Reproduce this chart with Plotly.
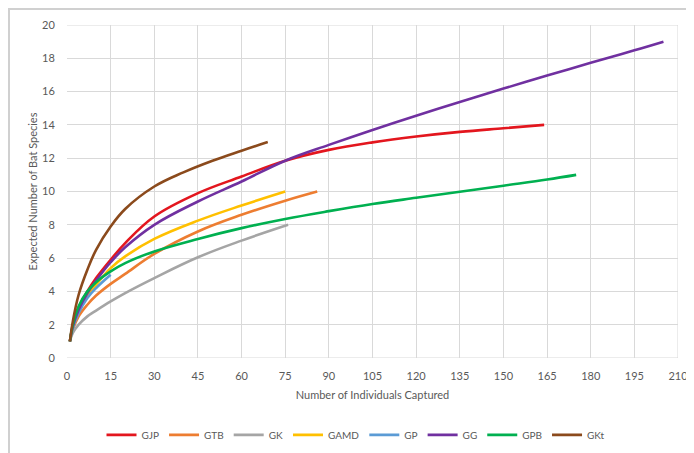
import plotly.graph_objects as go

# ---- data ----
series_names = ["GJP", "GTB", "GK", "GAMD", "GP", "GG", "GPB", "GKt"]

gjp_x = [1, 2, 4, 7, 10, 15, 20, 30, 45, 60, 75, 90, 105, 120, 135, 150, 164]
gjp_y = [1, 1.9, 3.0, 4.0, 4.8, 5.9, 6.9, 8.5, 9.9, 10.9, 11.85, 12.5, 12.95, 13.3, 13.58, 13.8, 14.0]

gtb_x = [1, 2, 4, 7, 10, 15, 20, 30, 45, 60, 75, 86]
gtb_y = [1, 1.7, 2.5, 3.2, 3.75, 4.45, 5.05, 6.25, 7.6, 8.6, 9.45, 10.0]

gk_x = [1, 2, 4, 7, 10, 15, 20, 30, 45, 60, 76]
gk_y = [1, 1.5, 2.0, 2.5, 2.85, 3.4, 3.9, 4.8, 6.05, 7.05, 8.0]

gamd_x = [1, 2, 4, 7, 10, 15, 20, 30, 45, 60, 75]
gamd_y = [1, 1.85, 2.8, 3.75, 4.4, 5.4, 6.1, 7.15, 8.25, 9.16, 10.0]

gp_x = [1, 2, 4, 7, 10, 15]
gp_y = [1, 1.8, 2.7, 3.6, 4.2, 5.0]

gg_x = [1, 2, 4, 7, 10, 15, 20, 30, 45, 60, 75, 90, 105, 120, 135, 150, 165, 180, 195, 205]
gg_y = [1, 1.9, 2.9, 3.9, 4.65, 5.75, 6.65, 8.0, 9.4, 10.6, 11.85, 12.8, 13.7, 14.55, 15.38, 16.18, 16.96, 17.73, 18.48, 19.0]

gpb_x = [1, 2, 4, 7, 10, 15, 20, 30, 45, 60, 75, 90, 105, 120, 135, 150, 165, 175]
gpb_y = [1, 2.0, 3.1, 4.0, 4.55, 5.2, 5.7, 6.4, 7.15, 7.8, 8.35, 8.82, 9.25, 9.62, 9.98, 10.35, 10.72, 11.0]

gkt_x = [1, 2, 4, 7, 10, 15, 20, 30, 40, 50, 60, 69]
gkt_y = [1, 2.2, 3.8, 5.3, 6.5, 7.9, 8.95, 10.3, 11.15, 11.85, 12.45, 12.97]

x_ticks = list(range(0, 211, 15))
y_ticks = list(range(0, 21, 2))

colors = ["#E3161E", "#ED7D31", "#A5A5A5", "#FFC000", "#5B9BD5", "#7030A0", "#00B050", "#8B4A1C"]
xs = [gjp_x, gtb_x, gk_x, gamd_x, gp_x, gg_x, gpb_x, gkt_x]
ys = [gjp_y, gtb_y, gk_y, gamd_y, gp_y, gg_y, gpb_y, gkt_y]

fig = go.Figure()
for name, x, y, c in zip(series_names, xs, ys, colors):
    fig.add_trace(go.Scatter(x=x, y=y, mode="lines", name=name,
                             line=dict(color=c, width=2.6, shape="spline", smoothing=1.1)))

font_col = "#595959"
fig.update_layout(
    width=694, height=453,
    margin=dict(l=59, r=24, t=17, b=103, autoexpand=False),
    paper_bgcolor="white", plot_bgcolor="white",
    font=dict(family="Lato, Open Sans, sans-serif", size=11, color=font_col),
    showlegend=True,
    legend=dict(orientation="h", x=0.473, xanchor="center", y=-0.231, yanchor="middle",
                font=dict(size=10, color=font_col), itemwidth=30,
                traceorder="normal"),
    xaxis=dict(range=[0, 210], tickvals=x_ticks, showgrid=True, gridcolor="#D9D9D9",
               gridwidth=1, zeroline=False, showline=False, automargin=False,
               ticks="outside", ticklen=8, tickcolor="rgba(0,0,0,0)",
               title=dict(text="Number of Individuals Captured", standoff=10,
                          font=dict(size=11, color=font_col)),
               tickfont=dict(size=11, color=font_col)),
    yaxis=dict(range=[0, 20], tickvals=y_ticks, showgrid=True, gridcolor="#D9D9D9",
               gridwidth=1, zeroline=False, showline=False, automargin=False,
               ticks="outside", ticklen=9, tickcolor="rgba(0,0,0,0)",
               title=dict(text="Expected Number of Bat Species", standoff=2,
                          font=dict(size=11, color=font_col)),
               tickfont=dict(size=11, color=font_col)),
)
# plot-area edge lines
fig.add_shape(type="line", xref="x", yref="y", x0=0, x1=210, y0=20, y1=20,
              line=dict(color="#D9D9D9", width=1), layer="below")
fig.add_shape(type="line", xref="x", yref="y", x0=210, x1=210, y0=0, y1=20,
              line=dict(color="#D9D9D9", width=1), layer="below")
fig.add_shape(type="line", xref="x", yref="y", x0=0, x1=210, y0=0, y1=0,
              line=dict(color="#D9D9D9", width=1), layer="below")
# outer chart frame
fig.add_shape(type="rect", xref="paper", yref="paper", x0=-0.0949, x1=1.06, y0=-0.4, y1=1.048,
              line=dict(color="#D0D0D0", width=2), fillcolor="rgba(0,0,0,0)")

fig.write_html("out.html")
